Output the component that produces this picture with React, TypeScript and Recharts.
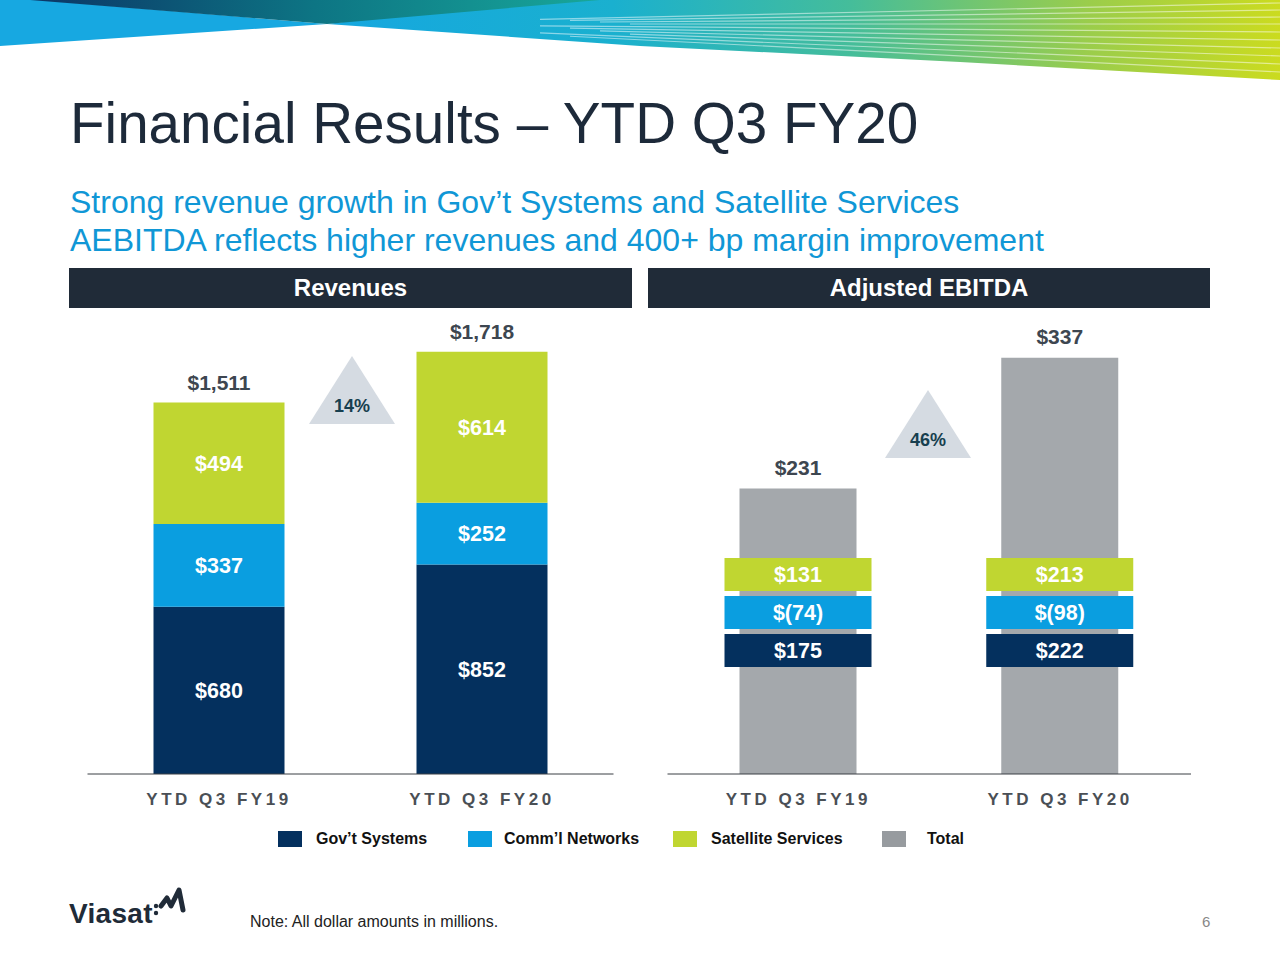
import React from "react";
import { BarChart, Bar, XAxis, YAxis, LabelList } from "recharts";

const categories = ["YTD Q3 FY19", "YTD Q3 FY20"];

// revenues ($M)
const revGov = [680, 852];
const revComm = [337, 252];
const revSat = [494, 614];
const revTotal = [1511, 1718];

// adjusted EBITDA ($M)
const ebitdaGov = [175, 222];
const ebitdaComm = [-74, -98];
const ebitdaSat = [131, 213];
const ebitdaTotal = [231, 337];

const revGrowth = "14%";
const ebitdaGrowth = "46%";

const NAVY = "#04305e";
const BLUE = "#0a9ee0";
const GREEN = "#c0d631";
const GRAY = "#a4a8ac";
const DARK = "#202b38";

const legendItems = [
  { name: "Gov’t Systems", color: NAVY },
  { name: "Comm’l Networks", color: BLUE },
  { name: "Satellite Services", color: GREEN },
  { name: "Total", color: "#979b9f" },
];
const legendLeft = [278, 468, 673, 882];

const revData = categories.map((name, i) => ({
  name,
  gov: revGov[i],
  comm: revComm[i],
  sat: revSat[i],
  total: revTotal[i],
}));

const ebitdaData = categories.map((name, i) => ({
  name,
  gov: ebitdaGov[i],
  comm: ebitdaComm[i],
  sat: ebitdaSat[i],
  total: ebitdaTotal[i],
}));

const money = (v: any) => {
  const n = Number(v);
  return n < 0 ? `$(${-n})` : `$${n.toLocaleString("en-US")}`;
};

const tickStyle = { fill: "#4a4f55", fontSize: 17, fontWeight: "bold", letterSpacing: 3.5 };
const inLabel = { fill: "#ffffff", fontSize: 21.5, fontWeight: "bold" };
const topLabel = { fill: "#3d4650", fontSize: 21, fontWeight: "bold" };

// overlay boxes for the EBITDA segments, placed above the baseline of the total bar
const segBox = (color: string, rise: number) => (props: any) => {
  const vb = props.viewBox && props.viewBox.width != null ? props.viewBox : props;
  const x = Number(vb.x);
  const y = Number(vb.y);
  const w = Number(vb.width);
  const h = Number(vb.height);
  const base = y + h;
  const cx = x + w / 2;
  const bw = w + 30;
  return (
    <g>
      <rect x={cx - bw / 2} y={base - rise} width={bw} height={33} fill={color} />
      <text
        x={cx}
        y={base - rise + 16.5}
        dy="0.35em"
        textAnchor="middle"
        fill="#fff"
        fontSize={21.5}
        fontWeight="bold"
      >
        {money(props.value)}
      </text>
    </g>
  );
};

function Banner() {
  const ax = 327;
  const ay = 24;
  const rays = [3, 10, 17, 24, 32, 40, 48, 56, 64, 72];
  return (
    <svg width={1280} height={82} style={{ position: "absolute", left: 0, top: 0 }}>
      <defs>
        <linearGradient id="dk" x1="0" x2="1" y1="0" y2="0">
          <stop offset="0" stopColor="#0b3566" />
          <stop offset="0.5" stopColor="#0d7584" />
          <stop offset="1" stopColor="#18a79a" />
        </linearGradient>
        <linearGradient id="fan" gradientUnits="userSpaceOnUse" x1="327" x2="1280" y1="0" y2="0">
          <stop offset="0" stopColor="#15a7e0" />
          <stop offset="0.3" stopColor="#1ab0cf" />
          <stop offset="0.55" stopColor="#45bd9a" />
          <stop offset="0.8" stopColor="#9bcd4b" />
          <stop offset="1" stopColor="#cbdb1f" />
        </linearGradient>
      </defs>
      <polygon points={`0,0 40,0 ${ax},${ay} 0,46`} fill="#17a8e1" />
      <polygon
        points={`${ax},${ay} 520,0 1280,0 1280,80 960,62 640,46`}
        fill="url(#fan)"
      />
      <polygon points={`30,0 600,0 ${ax},${ay}`} fill="url(#dk)" />
      {rays.map((ry, i) => {
        const sx = 540 + (i % 4) * 30;
        const sy = ay + ((ry - ay) * (sx - ax)) / (1280 - ax);
        return (
          <line
            key={i}
            x1={sx}
            y1={sy}
            x2={1280}
            y2={ry}
            stroke="#ffffff"
            strokeOpacity={0.5}
            strokeWidth={1.2}
          />
        );
      })}
    </svg>
  );
}

function Header({ left, width, text }: { left: number; width: number; text: string }) {
  return (
    <div
      style={{
        position: "absolute",
        left,
        top: 268,
        width,
        height: 40,
        background: DARK,
        color: "#fff",
        fontWeight: "bold",
        fontSize: 24,
        lineHeight: "40px",
        textAlign: "center",
      }}
    >
      {text}
    </div>
  );
}

function Growth({ left, top, text }: { left: number; top: number; text: string }) {
  return (
    <svg width={88} height={70} style={{ position: "absolute", left, top }}>
      <polygon points="44,0 87,68 1,68" fill="#d5dbe2" />
      <text x={44} y={56} textAnchor="middle" fill="#173f4f" fontSize={18} fontWeight="bold">
        {text}
      </text>
    </svg>
  );
}

export default function App() {
  return (
    <div
      style={{
        position: "absolute",
        left: 0,
        top: 0,
        width: 1280,
        height: 960,
        background: "#fff",
        overflow: "hidden",
        fontFamily: "'Liberation Sans', Arial, Helvetica, sans-serif",
      }}
    >
      <Banner />
      <div
        style={{
          position: "absolute",
          left: 70,
          top: 92,
          fontSize: 56.6,
          color: "#1d2a3a",
          lineHeight: "64px",
          whiteSpace: "nowrap",
        }}
      >
        Financial Results – YTD Q3 FY20
      </div>
      <div
        style={{
          position: "absolute",
          left: 70,
          top: 183,
          fontSize: 32,
          color: "#1097d6",
          lineHeight: "38px",
          whiteSpace: "nowrap",
        }}
      >
        <div>Strong revenue growth in Gov’t Systems and Satellite Services</div>
        <div>AEBITDA reflects higher revenues and 400+ bp margin improvement</div>
      </div>

      <Header left={69} width={563} text="Revenues" />
      <Header left={648} width={562} text="Adjusted EBITDA" />

      <div style={{ position: "absolute", left: 60, top: 300 }}>
        <BarChart
          width={580}
          height={520}
          data={revData}
          margin={{ top: 7, right: 26.5, left: 27.5, bottom: 16 }}
        >
          <XAxis
            dataKey="name"
            axisLine={{ stroke: "#3a3f45" }}
            tickLine={false}
            tickMargin={13}
            height={30}
            interval={0}
            tick={tickStyle}
          />
          <YAxis hide domain={[0, 1900]} />
          <Bar dataKey="gov" stackId="r" fill={NAVY} barSize={131} isAnimationActive={false}>
            <LabelList dataKey="gov" position="center" formatter={money} {...inLabel} />
          </Bar>
          <Bar dataKey="comm" stackId="r" fill={BLUE} barSize={131} isAnimationActive={false}>
            <LabelList dataKey="comm" position="center" formatter={money} {...inLabel} />
          </Bar>
          <Bar dataKey="sat" stackId="r" fill={GREEN} barSize={131} isAnimationActive={false}>
            <LabelList dataKey="sat" position="center" formatter={money} {...inLabel} />
            <LabelList dataKey="total" position="top" offset={13} formatter={money} {...topLabel} />
          </Bar>
        </BarChart>
      </div>

      <div style={{ position: "absolute", left: 640, top: 300 }}>
        <BarChart
          width={580}
          height={520}
          data={ebitdaData}
          margin={{ top: 7, right: 29, left: 27.5, bottom: 16 }}
        >
          <XAxis
            dataKey="name"
            axisLine={{ stroke: "#3a3f45" }}
            tickLine={false}
            tickMargin={13}
            height={30}
            interval={0}
            tick={tickStyle}
          />
          <YAxis hide domain={[0, 378]} />
          <Bar dataKey="total" fill={GRAY} barSize={117} isAnimationActive={false}>
            <LabelList dataKey="total" position="top" offset={14} formatter={money} {...topLabel} />
            <LabelList dataKey="gov" content={segBox(NAVY, 140)} />
            <LabelList dataKey="comm" content={segBox(BLUE, 178)} />
            <LabelList dataKey="sat" content={segBox(GREEN, 216)} />
          </Bar>
        </BarChart>
      </div>

      <Growth left={308} top={356} text={revGrowth} />
      <Growth left={884} top={390} text={ebitdaGrowth} />

      {legendItems.map((it, i) => (
        <div
          key={it.name}
          style={{
            position: "absolute",
            left: legendLeft[i],
            top: 831,
            height: 16,
            display: "flex",
            alignItems: "center",
            whiteSpace: "nowrap",
          }}
        >
          <div style={{ width: 24, height: 16, background: it.color }} />
          <div
            style={{
              marginLeft: i === 3 ? 21 : i === 1 ? 12 : 14,
              fontSize: 16,
              fontWeight: "bold",
              color: "#111",
            }}
          >
            {it.name}
          </div>
        </div>
      ))}

      <div
        style={{
          position: "absolute",
          left: 69,
          top: 898,
          fontSize: 28,
          fontWeight: "bold",
          color: DARK,
          letterSpacing: 0.3,
          lineHeight: "32px",
        }}
      >
        Viasat
      </div>
      <svg width={40} height={40} style={{ position: "absolute", left: 150, top: 884 }}>
        <circle cx={6} cy={22} r={2.2} fill={DARK} />
        <circle cx={6} cy={29} r={2.2} fill={DARK} />
        <path
          d="M11 22 L17 14 L21 22 L29 6 L33 26"
          fill="none"
          stroke={DARK}
          strokeWidth={5}
          strokeLinecap="round"
          strokeLinejoin="round"
        />
      </svg>
      <div style={{ position: "absolute", left: 250, top: 913, fontSize: 16, color: "#222" }}>
        Note: All dollar amounts in millions.
      </div>
      <div style={{ position: "absolute", left: 1202, top: 913, fontSize: 15, color: "#888" }}>
        6
      </div>
    </div>
  );
}
